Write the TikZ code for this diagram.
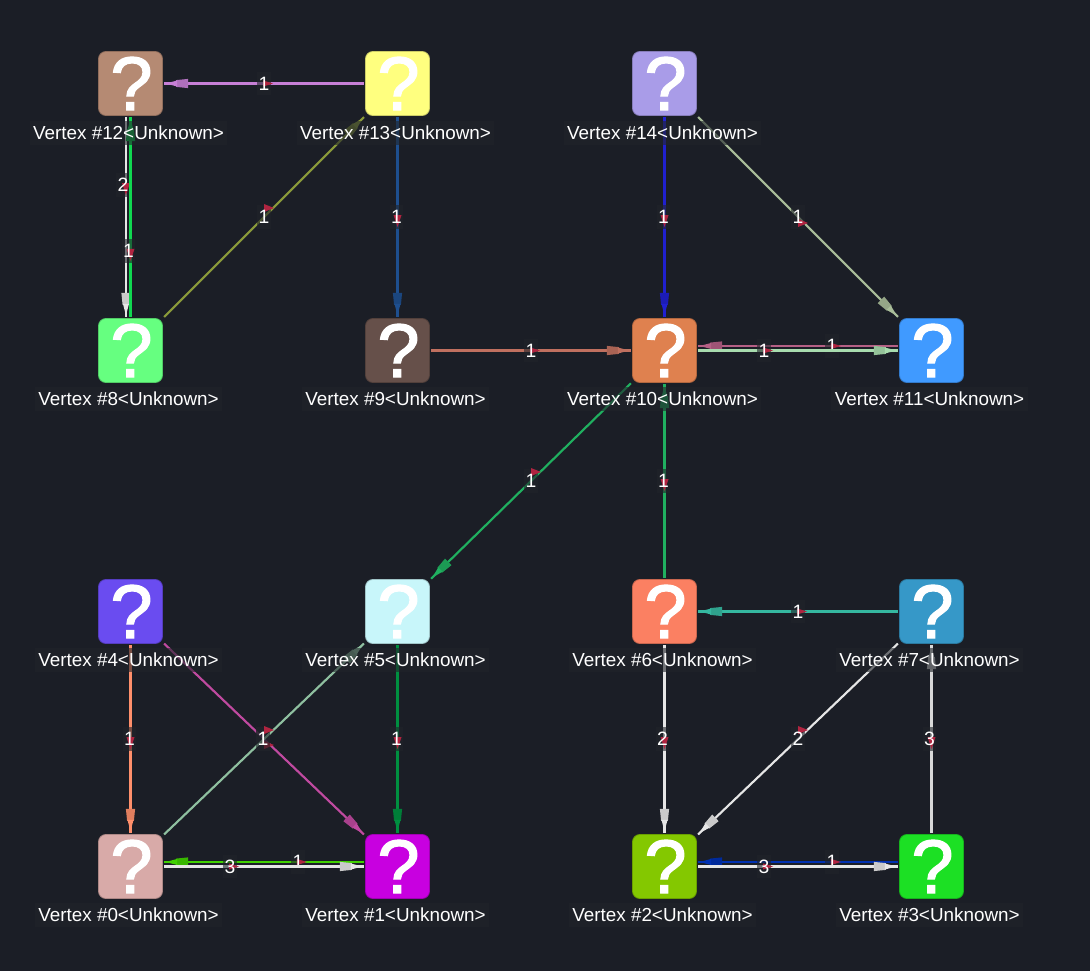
\documentclass[tikz,border=0pt]{standalone}
\usepackage{fontspec}
\setmainfont{Liberation Sans}
\newfontfamily\qfont[FakeBold=1.6]{Liberation Sans}
\usetikzlibrary{calc,decorations.markings}
\definecolor{bgc}{HTML}{1B1E26}
\definecolor{mkc}{HTML}{B02440}
\definecolor{lbc}{HTML}{20242A}
\tikzset{
  vtx/.style={rectangle,rounded corners=5.5pt,minimum width=48pt,minimum height=48pt,inner sep=0pt,outer sep=1.2pt,line width=.6pt},
  vmark/.style={text=white,font=\qfont\fontsize{57}{57}\selectfont,inner sep=0pt},
  vlabel/.style={fill=lbc,fill opacity=.6,text opacity=1,text=white,font=\fontsize{14.15}{16}\selectfont,inner xsep=2.5pt,inner ysep=0pt,minimum height=18pt},
  wbox/.style={fill=lbc,fill opacity=.6,inner sep=0pt,minimum width=10pt,minimum height=17.5pt},
  wtext/.style={text=white,font=\fontsize{14.5}{16}\selectfont,inner sep=0pt},
  edgeline/.style={line width=1.6pt},
  headmark/.style={postaction={decorate,decoration={markings,mark=at position 1 with {
    \fill[#1!88!black] (-24,-4.6) -- (-12,-3.4) -- (-12,3.4) -- (-24,4.6) -- cycle;
    \fill[#1] (-13,-3) -- (-5,-.9) -- (0,-.4) -- (0,.4) -- (-5,.9) -- (-13,3) -- cycle;
  }}}},
  mk/.style={fill=mkc}
}
\newcommand{\mkdown}[1]{\fill[mk] ($(#1)+(-4,-2)$) -- ($(#1)+(4,-2)$) -- ($(#1)+(0,10)$) -- cycle;}
\newcommand{\mkright}[1]{\fill[mk] ($(#1)+(-1,-3)$) -- ($(#1)+(9,0)$) -- ($(#1)+(-1,3)$) -- cycle;}
\newcommand{\mkup}[1]{\fill[mk] ($(#1)+(0,-13)$) -- ($(#1)+(10,-9)$) -- ($(#1)+(0,-5)$) -- cycle;}
\newcommand{\mklow}[1]{\fill[mk] ($(#1)+(0,2)$) -- ($(#1)+(10,6)$) -- ($(#1)+(0,10)$) -- cycle;}
% from, to, colour, pos, weight, marker, label x shift
\newcommand{\edge}[7]{%
  \definecolor{ec}{HTML}{#3}%
  \draw[edgeline,color=ec,headmark=ec] (#1) -- coordinate[pos=#4] (lab) (#2);
  \node[wbox] at ($(lab)+(#7,0)$) {};
  \csname mk#6\endcsname{lab}
  \node[wtext] at ($(lab)+(#7,0)$) {#5};
}
\newcommand{\vertex}[4]{%
  \definecolor{vc}{HTML}{#4}%
  \node[vtx,fill=vc,draw=vc!80!black] (v#1) at (#2,#3) {};
  \node[vmark] at (#2+1,#3) {?};
}
\newcommand{\vlab}[3]{\node[vlabel] (l#1) at (#2,#3) {Vertex \##1<Unknown>};}
\begin{document}
\begin{tikzpicture}[x=.75pt,y=-.75pt]
\useasboundingbox (0,0) rectangle (1090,971);
\fill[bgc] (0,0) rectangle (1090,971);
\vertex{12}{130.5}{83.5}{B58A73}
\vertex{13}{397.5}{83.5}{FFFF7F}
\vertex{14}{664.5}{83.5}{A99CE8}
\vertex{8}{130.5}{350.5}{66FF80}
\vertex{9}{397.5}{350.5}{66504A}
\vertex{10}{664.5}{350.5}{DF814F}
\vertex{11}{931.5}{350.5}{409AFF}
\vertex{4}{130.5}{611.5}{6A4CF0}
\vertex{5}{397.5}{611.5}{C8F6FA}
\vertex{6}{664.5}{611.5}{FB8062}
\vertex{7}{931.5}{611.5}{3698C8}
\vertex{0}{130.5}{866.5}{D8AAA8}
\vertex{1}{397.5}{866.5}{C800E0}
\vertex{2}{664.5}{866.5}{84C800}
\vertex{3}{931.5}{866.5}{1CE024}
% edges
\edge{[xshift=-3.4pt]v12.south}{[xshift=-3.4pt]v8.north}{E6E6E6}{.34}{2}{down}{-3}
\edge{v8.north}{v12.south}{10D850}{.33}{1}{down}{-2}
\edge{v13}{v12}{C77FD6}{.5}{1}{right}{0}
\edge{v13}{v9}{1E4F8F}{.5}{1}{down}{-1}
\edge{v8}{v13}{8A9A3A}{.5}{1}{up}{0}
\edge{v14}{v10}{2020D0}{.5}{1}{down}{-1}
\edge{v14}{v11}{A9BD99}{.5}{1}{low}{0}
\edge{v9}{v10}{C0705F}{.5}{1}{right}{0}
\edge{[yshift=3.4pt]v11.west}{[yshift=3.4pt]v10.east}{B56085}{.33}{1}{right}{0}
\edge{v10.east}{v11.west}{A8DCAE}{.33}{1}{right}{0}
\edge{v10}{v5}{20B060}{.5}{1}{up}{0}
\edge{v6}{v10}{20B060}{.5}{1}{down}{-1}
\edge{v7}{v6}{35B8A0}{.5}{1}{right}{0}
\edge{v6}{v2}{E6E6E6}{.5}{2}{down}{-2}
\edge{v7}{v2}{E6E6E6}{.5}{2}{up}{0}
\edge{v3}{v7}{D8D8D8}{.5}{3}{down}{-2}
\edge{v4}{v0}{FF8F6B}{.5}{1}{down}{-1}
\edge{v4}{v1}{C04AA0}{.5}{1}{low}{-1}
\edge{v0}{v5}{8FC0A0}{.5}{1}{up}{-1}
\edge{v5}{v1}{008F40}{.5}{1}{down}{-1}
\edge{[yshift=3.4pt]v1.west}{[yshift=3.4pt]v0.east}{40D000}{.33}{1}{right}{0}
\edge{v0.east}{v1.west}{E6E6E6}{.33}{3}{right}{0}
\edge{[yshift=3.4pt]v3.west}{[yshift=3.4pt]v2.east}{0030B0}{.33}{1}{right}{0}
\edge{v2.east}{v3.west}{E6E6E6}{.33}{3}{right}{0}
% vertex labels on top
\vlab{12}{128.5}{132.5}
\vlab{13}{395.5}{132.5}
\vlab{14}{662.5}{132.5}
\vlab{8}{128.5}{399}
\vlab{9}{395.5}{399}
\vlab{10}{662.5}{399}
\vlab{11}{929.5}{399}
\vlab{4}{128.5}{660}
\vlab{5}{395.5}{660}
\vlab{6}{662.5}{660}
\vlab{7}{929.5}{660}
\vlab{0}{128.5}{915}
\vlab{1}{395.5}{915}
\vlab{2}{662.5}{915}
\vlab{3}{929.5}{915}
\end{tikzpicture}
\end{document}
